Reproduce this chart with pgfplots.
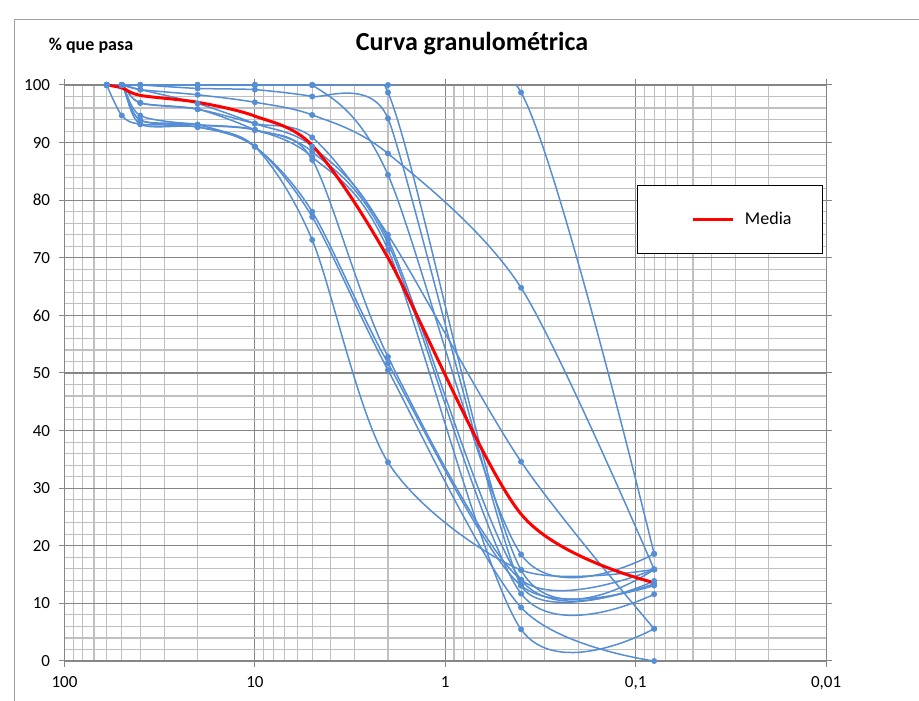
\documentclass[border=0pt]{standalone}
\usepackage{fontspec}
\setmainfont{Carlito}
\usepackage{pgfplots}
\pgfplotsset{compat=1.18}
\definecolor{serie}{RGB}{85,142,213}
\definecolor{majgrid}{RGB}{134,134,134}
\definecolor{mingrid}{RGB}{192,192,192}
\definecolor{frame}{RGB}{160,160,160}
\begin{document}
\begin{tikzpicture}
\useasboundingbox (0pt,0pt) rectangle (919pt,701pt);
\draw[frame, line width=1pt] (14pt,-5pt) -- (14pt,681pt) -- (930pt,681pt);
\node[font=\bfseries\fontsize{26}{30}\selectfont] at (472pt,657pt) {Curva granulométrica};
\node[font=\bfseries\fontsize{18}{21}\selectfont] at (91pt,655pt) {\% que pasa};
\begin{axis}[
  at={(64.5pt,40pt)}, anchor=south west, scale only axis,
  width=761.6pt, height=576pt,
  xmode=log, x dir=reverse, xmin=0.01, xmax=100, ymin=0, ymax=100,
  xtick={0.01,0.1,1,10,100},
  xticklabels={{0,01},{0,1},1,10,100},
  minor xtick={0.02,0.03,0.04,0.05,0.06,0.07,0.08,0.09,0.2,0.3,0.4,0.5,0.6,0.7,0.8,0.9,2,3,4,5,6,7,8,9,20,30,40,50,60,70,80,90},
  ytick={0,10,...,100},
  minor ytick={2,4,6,8,12,14,16,18,22,24,26,28,32,34,36,38,42,44,46,48,52,54,56,58,62,64,66,68,72,74,76,78,82,84,86,88,92,94,96,98},
  grid=both,
  major grid style={majgrid, line width=1.1pt},
  minor grid style={mingrid, line width=1.1pt},
  axis line style={majgrid, line width=1.1pt},
  tick style={majgrid, line width=1pt},
  major tick length=6pt, minor tick length=0pt, tick align=outside,
  /pgf/number format/assume math mode=true,
  tick label style={font=\fontsize{17}{20}\selectfont, black},
  xticklabel style={yshift=-6pt},
  yticklabel style={xshift=-5pt},
  legend style={at={(0.7517,0.8264)}, anchor=north west, draw=black, line width=1pt,
    inner sep=0pt, nodes={inner sep=0pt},
    font=\fontsize{18}{21}\selectfont},
  legend image code/.code={\path[draw=none, fill=none] (-56pt,-34pt) rectangle (40pt,34pt); \draw[#1] (0pt,0pt) -- (40pt,0pt);},
  every axis plot/.append style={smooth, tension=0.5},
]
\pgfplotsset{blue series/.style={serie, line width=1.5pt, mark=*, mark size=2.2pt, mark options={fill=serie, draw=serie}, forget plot}}
\addplot[blue series] coordinates {(60,100)(50,100)(40,100)(20,100)(10,100)(5,100)(2,100)(0.4,98.7)(0.08,18.6)};
\addplot[blue series] coordinates {(60,100)(50,100)(40,100)(20,100)(10,100)(5,100)(2,98.7)(0.4,15.8)(0.08,15.9)};
\addplot[blue series, tension=0.3] coordinates {(60,100)(50,100)(40,100)(20,99.4)(10,99.2)(5,98.0)(2,94.2)(0.4,13.1)(0.08,13.4)};
\addplot[blue series] coordinates {(60,100)(50,100)(40,100)(20,100)(10,100)(5,100)(2,84.4)(0.4,18.5)(0.08,18.6)};
\addplot[blue series] coordinates {(60,100)(50,100)(40,99.2)(20,98.3)(10,97.0)(5,94.8)(2,88.1)(0.4,64.8)(0.08,15.9)};
\addplot[blue series] coordinates {(60,100)(50,100)(40,96.9)(20,95.8)(10,93.3)(5,90.9)(2,74.0)(0.4,34.6)(0.08,5.6)};
\addplot[blue series] coordinates {(60,100)(50,100)(40,99.2)(20,96.8)(10,93.3)(5,89.3)(2,73.2)(0.4,14.1)(0.08,13.9)};
\addplot[blue series] coordinates {(60,100)(50,100)(40,94.7)(20,93.1)(10,92.2)(5,88.4)(2,72.5)(0.4,11.7)(0.08,11.6)};
\addplot[blue series] coordinates {(60,100)(50,100)(40,93.9)(20,93.1)(10,92.2)(5,87.5)(2,71.4)(0.4,5.5)(0.08,5.6)};
\addplot[blue series] coordinates {(60,100)(50,100)(40,96.9)(20,95.8)(10,92.2)(5,87.0)(2,52.8)(0.4,14.1)(0.08,15.9)};
\addplot[blue series] coordinates {(60,100)(50,94.7)(40,93.2)(20,92.7)(10,89.3)(5,73.1)(2,34.5)(0.4,15.8)(0.08,15.9)};
\addplot[blue series] coordinates {(60,100)(50,100)(40,93.9)(20,93.1)(10,89.3)(5,78.0)(2,51.7)(0.4,13.1)(0.08,13.1)};
\addplot[blue series] coordinates {(60,100)(50,100)(40,93.2)(20,92.7)(10,89.3)(5,77.1)(2,50.5)(0.4,9.3)(0.08,0)};
\addplot[red, line width=3pt, no marks] coordinates {(60,100)(50,99.5)(40,98.2)(20,97.0)(10,94.6)(5,89.5)(2,70.0)(0.4,25.5)(0.08,13.6)};
\addlegendentry{\hspace*{10pt}Media\hspace*{31pt}}
\end{axis}
\end{tikzpicture}
\end{document}
